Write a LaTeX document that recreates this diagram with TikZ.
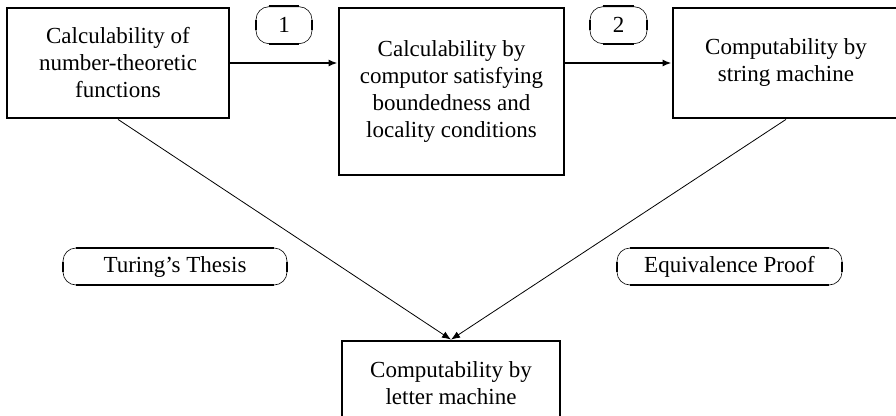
\documentclass[tikz,border=0pt]{standalone}
\usepackage{fontspec}
\setmainfont{Liberation Serif}
\usetikzlibrary{arrows.meta,positioning}
\newcommand{\tagrims}[1]
{   \draw[rim] ([xshift=13pt]#1.north west) -- ([xshift=-13pt]#1.north east);
    \draw[rim] ([xshift=13pt]#1.south west) -- ([xshift=-13pt]#1.south east);
    \draw[rim] ([yshift=5pt]#1.west) -- ([yshift=-5pt]#1.west);
    \draw[rim] ([yshift=5pt]#1.east) -- ([yshift=-5pt]#1.east);
}
\tikzset{
  box/.style={draw, line width=2.8pt, align=center, inner sep=0pt,
    font=\fontsize{23}{27}\selectfont},
  tag/.style={draw, line width=0.6pt, rounded corners=13pt, inner sep=0pt,
    minimum height=37pt, font=\fontsize{23}{27}\selectfont},
  rim/.style={line width=2pt},
  link/.style={-{Latex[length=9pt,width=7pt]}, line width=1.8pt},
  thinlink/.style={-{Latex[length=9pt,width=7pt]}, line width=0.8pt}
}

\begin{document}
\begin{tikzpicture}[x=1pt,y=-1pt]
 \useasboundingbox (0,0) rectangle (896,415);
 \clip (0,0) rectangle (896,415);

 \node[box, minimum width=222pt, minimum height=110pt] (numth) at (118,63)
   {Calculability of\\number-theoretic\\functions};
 \node[box, minimum width=225pt, minimum height=167pt] (comp) at (451.5,91.5)
   {Calculability by\\computor satisfying\\boundedness and\\locality conditions};
 \node[box, minimum width=226pt, minimum height=110pt] (strm) at (786,63)
   {Computability by\\string machine};
 \node[box, minimum width=218pt, minimum height=84pt] (letm) at (451,383)
   {Computability by\\letter machine};

 % top row
 \draw[link] (numth.east) -- (numth.east -| comp.west)
   node[tag, midway, above=19pt, minimum width=56pt] (one) {1};
 \draw[link] (comp.east |- strm.west) -- (strm.west)
   node[tag, midway, above=19pt, minimum width=57pt] (two) {2};
 \tagrims{one} \tagrims{two}

 % down to the letter machine
 \draw[thinlink] (numth.south) -- (letm.north);
 \draw[thinlink] (strm.south) -- (letm.north);

 \node[tag, minimum width=224pt] (thesis) at (175,266.5) {Turing's Thesis};
 \node[tag, minimum width=225pt] (proof) at (729.5,266.5) {Equivalence Proof};
 \tagrims{thesis} \tagrims{proof}

\end{tikzpicture}
\end{document}
